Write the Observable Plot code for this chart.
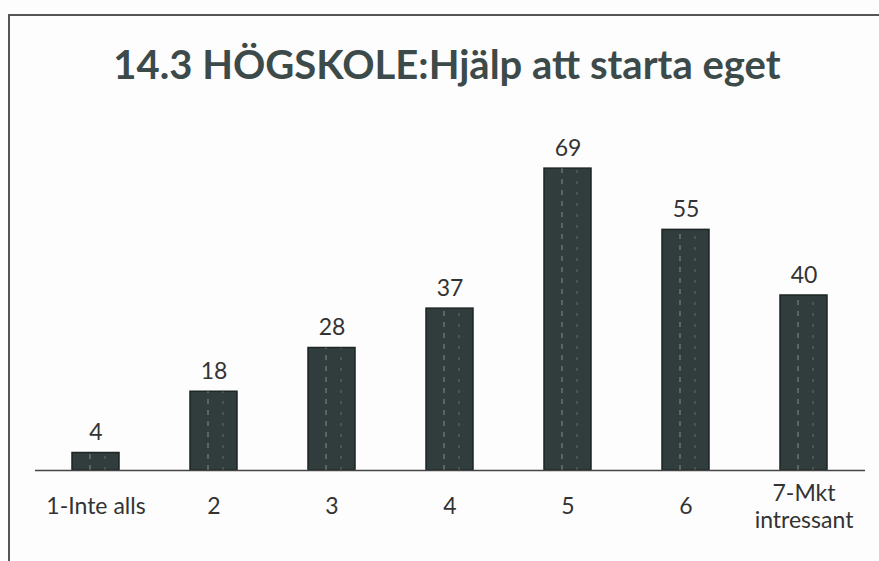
<!DOCTYPE html>
<html>
<head>
<meta charset="utf-8">
<script src="https://cdn.jsdelivr.net/npm/d3@7"></script>
<script src="https://cdn.jsdelivr.net/npm/@observablehq/plot@0.6"></script>
<style>
  html, body { margin: 0; padding: 0; background: #fdfdfd; }
  #wrap { position: relative; width: 879px; height: 561px; overflow: hidden; background: #fdfdfd; }
  #title { position: absolute; left: 0; width: 894px; top: 40px; text-align: center;
           font-family: Lato, "Open Sans", sans-serif; font-weight: bold; font-size: 40px;
           color: #3c4a4a; white-space: nowrap; }
  #topline { position: absolute; left: 8px; top: 14px; width: 871px; height: 2px; background: #555; }
  #leftline { position: absolute; left: 8px; top: 14px; width: 2px; height: 547px; background: #555; }
  #chart { position: absolute; left: 0; top: 0; }
</style>
</head>
<body>
<div id="wrap">
  <div id="topline"></div>
  <div id="leftline"></div>
  <div id="chart"></div>
  <div id="title">14.3 HÖGSKOLE:Hjälp att starta eget</div>
</div>
<script>
const categories = ["1-Inte alls", "2", "3", "4", "5", "6", "7-Mkt\nintressant"];
const values = [4, 18, 28, 37, 69, 55, 40];

const data = categories.map((c, i) => ({category: c, value: values[i]}));

const chart = Plot.plot({
  width: 879,
  height: 561,
  marginLeft: 35,
  marginRight: 14,
  marginBottom: 91,
  marginTop: 120,
  style: {background: "transparent", fontFamily: "Lato, 'Open Sans', sans-serif"},
  x: {domain: categories, paddingInner: 0.6, paddingOuter: 0.3, axis: null},
  y: {domain: [0, 80], axis: null},
  marks: [
    Plot.barY(data, {x: "category", y: "value", fill: "#313d3d", stroke: "#1d2525", strokeWidth: 1.5}),
    Plot.ruleX(data, {x: "category", y1: 0, y2: "value", dx: -6, stroke: "#ffffff", strokeOpacity: 0.35,
      strokeWidth: 1.2, strokeDasharray: "5,6"}),
    Plot.ruleX(data, {x: "category", y1: 0, y2: "value", dx: 9, stroke: "#ffffff", strokeOpacity: 0.25,
      strokeWidth: 1, strokeDasharray: "3,8"}),
    Plot.ruleY([0], {stroke: "#444", strokeWidth: 1.5}),
    Plot.text(data, {x: "category", y: "value", text: d => String(d.value), dy: -20,
      fontSize: 23, fill: "#333"}),
    Plot.text(data, {x: "category", y: 0, text: "category", dy: 35, lineAnchor: "middle",
      lineHeight: 1.2, fontSize: 23, fill: "#333"})
  ]
});
document.getElementById("chart").appendChild(chart);
</script>
</body>
</html>
